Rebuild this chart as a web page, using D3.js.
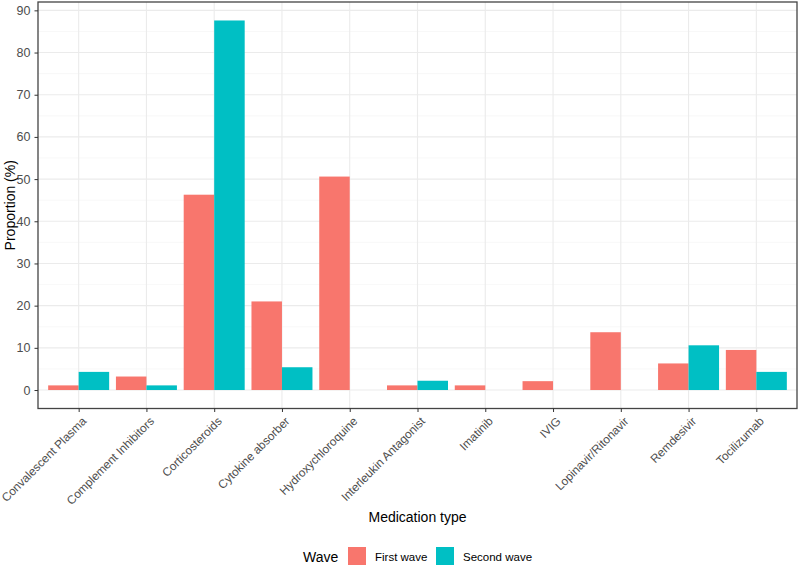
<!DOCTYPE html>
<html><head><meta charset="utf-8">
<script src="https://cdn.jsdelivr.net/npm/d3@7"></script>
<style>body{margin:0;background:#fff;} svg{display:block;font-family:"Liberation Sans",Arial,sans-serif;}</style>
</head><body>
<script>
const categories = ["Convalescent Plasma","Complement Inhibitors","Corticosteroids","Cytokine absorber","Hydroxychloroquine","Interleukin Antagonist","Imatinib","IVIG","Lopinavir/Ritonavir","Remdesivir","Tocilizumab"];
const firstWave  = [1.1, 3.2, 46.3, 21.0, 50.6, 1.1, 1.1, 2.1, 13.7, 6.3, 9.5];
const secondWave = [4.3, 1.1, 87.6, 5.4, 0, 2.2, 0, 0, 0, 10.6, 4.3];
const seriesNames = ["First wave","Second wave"];
const seriesColors = ["#F8766D","#00BFC4"];
const yTicks = [0,10,20,30,40,50,60,70,80,90];
const yMinor = [5,15,25,35,45,55,65,75,85];

const W=800,H=568;
const P={l:38,r:797,t:2,b:408.5};
const svg=d3.select("body").append("svg").attr("width",W).attr("height",H);

const n=categories.length;
const step=(P.r-P.l)/(n-1+1.2);
const x=d3.scalePoint().domain(categories).range([P.l+0.6*step,P.r-0.6*step]);
const maxV=d3.max(firstWave.concat(secondWave));
const ex=maxV*0.05;
const y=d3.scaleLinear().domain([-ex,maxV+ex]).range([P.b,P.t]);
const xs=d3.scaleBand().domain(seriesNames).range([-0.45*step,0.45*step]).padding(0);

const g=svg.append("g");
// grid
g.selectAll(".minor").data(yMinor).enter().append("line")
 .attr("x1",P.l).attr("x2",P.r).attr("y1",d=>y(d)).attr("y2",d=>y(d))
 .attr("stroke","#F4F4F4").attr("stroke-width",0.6);
g.selectAll(".major").data(yTicks).enter().append("line")
 .attr("x1",P.l).attr("x2",P.r).attr("y1",d=>y(d)).attr("y2",d=>y(d))
 .attr("stroke","#EBEBEB").attr("stroke-width",1.1);
g.selectAll(".vmajor").data(categories).enter().append("line")
 .attr("x1",d=>x(d)).attr("x2",d=>x(d)).attr("y1",P.t).attr("y2",P.b)
 .attr("stroke","#EBEBEB").attr("stroke-width",1.1);

// bars
const rows=categories.map((c,i)=>({c,vals:[firstWave[i],secondWave[i]]}));
rows.forEach(r=>{
  r.vals.forEach((v,j)=>{
    if(v<=0) return;
    g.append("rect")
     .attr("x",x(r.c)+xs(seriesNames[j]))
     .attr("width",xs.bandwidth())
     .attr("y",y(v)).attr("height",y(0)-y(v))
     .attr("fill",seriesColors[j]);
  });
});

// border
svg.append("rect").attr("x",P.l).attr("y",P.t).attr("width",P.r-P.l).attr("height",P.b-P.t)
 .attr("fill","none").attr("stroke","#444").attr("stroke-width",1.3);

// y axis
const ya=svg.append("g").attr("transform",`translate(${P.l},0)`)
 .call(d3.axisLeft(y).tickValues(yTicks).tickSize(3.5).tickPadding(4));
ya.select(".domain").remove();
ya.selectAll("line").attr("stroke","#333");
ya.selectAll("text").attr("fill","#4D4D4D").style("font-size","12.5px").style("font-family","Liberation Sans, Arial, sans-serif");

// x axis
const xa=svg.append("g").attr("transform",`translate(0,${P.b})`)
 .call(d3.axisBottom(x).tickSize(3.5));
xa.select(".domain").remove();
xa.selectAll("line").attr("stroke","#333");
xa.selectAll("text").attr("fill","#4D4D4D").style("font-size","11.8px").style("font-family","Liberation Sans, Arial, sans-serif")
 .attr("text-anchor","end").attr("y",0).attr("dy","0.71em")
 .attr("transform","translate(2,7.5) rotate(-45)");

// axis titles
svg.append("text").attr("x",(P.l+P.r)/2).attr("y",522).attr("text-anchor","middle")
 .style("font-size","14px").attr("fill","#000").text("Medication type");
svg.append("text").attr("transform",`translate(15,${(P.t+P.b)/2}) rotate(-90)`).attr("text-anchor","middle")
 .style("font-size","14px").attr("fill","#000").text("Proportion (%)");

// legend
const lg=svg.append("g");
lg.append("text").attr("x",303).attr("y",562).style("font-size","14px").text("Wave");
const lx=[348,436], tx=[375,463];
seriesNames.forEach((s,i)=>{
  lg.append("rect").attr("x",lx[i]).attr("y",547).attr("width",18).attr("height",18).attr("fill",seriesColors[i]);
  lg.append("text").attr("x",tx[i]).attr("y",560.5).style("font-size","11.5px").text(s);
});
</script>
</body></html>
